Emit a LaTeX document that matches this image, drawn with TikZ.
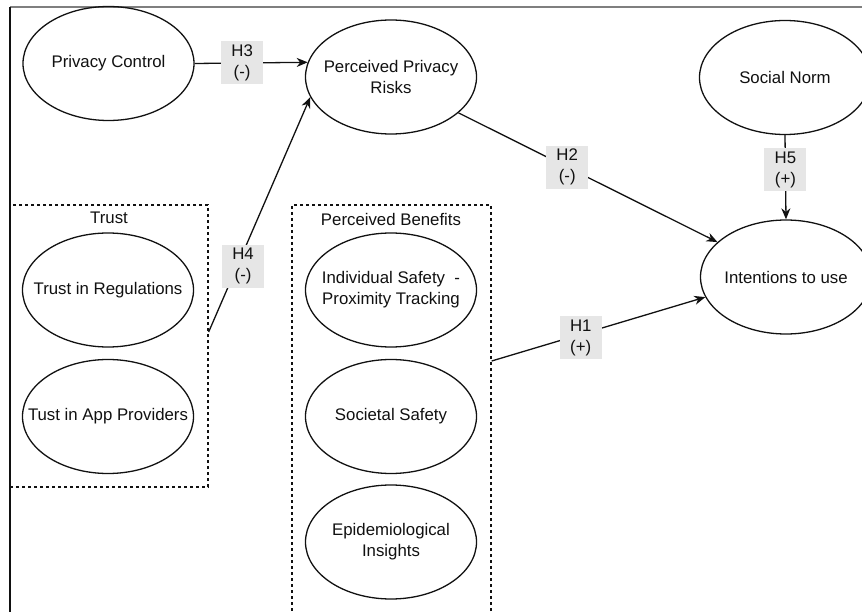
\documentclass[tikz,border=0pt]{standalone}
\usepackage{fontspec}
\setmainfont{Liberation Sans}
\usetikzlibrary{shapes.geometric,arrows.meta,calc}
\definecolor{lblgray}{HTML}{E6E6E6}
\definecolor{inkc}{HTML}{111111}
\definecolor{framegray}{HTML}{7F7F7F}
\begin{document}
\begin{tikzpicture}[x=1pt,y=-1pt,
  txtfont/.style={font=\fontsize{16.8}{21}\selectfont, text=inkc},
  construct/.style={ellipse, draw=inkc, line width=1.3pt, minimum width=171pt, minimum height=114pt, inner sep=0pt,
    label={[txtfont, align=center, inner sep=0pt]center:#1}},
  group/.style={rectangle, draw=inkc, dash pattern=on 3pt off 3pt, line width=1.3pt, inner sep=0pt},
  grouptitle/.style={inner sep=0pt, txtfont},
  hyp/.style={fill=lblgray, minimum width=42pt, minimum height=43pt, inner sep=0pt, align=center, txtfont},
  link/.style={draw=inkc, line width=1.3pt, -{Stealth[length=11pt,width=9pt,inset=3.5pt]}},
  framestyle/.style={line width=1.4pt}
]
\clip (0,0) rectangle (862,612);
\fill[white] (0,0) rectangle (862,612);

% page frame
\coordinate (ftl) at (10,7);
\coordinate (ftr) at (862,7);
\coordinate (fbl) at (10,612);
\draw[framestyle, draw=framegray] (ftl) -- (ftr);
\draw[framestyle, draw=inkc] (ftl) -- (fbl);

% groups
\node[group, minimum width=198pt, minimum height=282pt] (trust) at (109,346) {};
\node[grouptitle] (trustlbl) at (109,218) {Trust};
\node[group, minimum width=199pt, minimum height=435pt] (ben) at (391.5,422.5) {};
\node[grouptitle] (benlbl) at (391,219) {Perceived Benefits};

% constructs
\node[construct={Privacy Control}] (pc) at (108.5,63.5) {};
\node[construct={Perceived Privacy\\Risks}] (ppr) at (391,77) {};
\node[construct={Social Norm}] (sn) at (785,77.5) {};
\node[construct={Intentions to use}] (it) at (786,277) {};
\node[construct={Trust in Regulations}] (tr) at (108,290) {};
\node[construct={Tust in App Providers}] (ta) at (108,416.5) {};
\node[construct={Individual Safety~~-\\Proximity Tracking}] (is) at (391,290) {};
\node[construct={Societal Safety}] (ss) at (391,416.5) {};
\node[construct={Epidemiological\\Insights}] (ei) at (391,542) {};

% hypotheses
\draw[link] (pc.east) -- node[hyp, pos=0.42] (h3) {H3\\(-)} (ppr.170.4);
\draw[link] ([yshift=14pt]trust.east) -- node[hyp, pos=0.28, xshift=6pt] (h4) {H4\\(-)} (ppr.194);
\draw[link] (ppr.332.5) -- node[hyp, pos=0.42] (h2) {H2\\(-)} (it.153.4);
\draw[link] ([yshift=61.5pt]ben.east) -- node[hyp, pos=0.417, yshift=-3.5pt] (h1) {H1\\(+)} (it.194.4);
\draw[link] (sn.south) -- node[hyp, pos=0.41] (h5) {H5\\(+)} (it.north);
\end{tikzpicture}
\end{document}
